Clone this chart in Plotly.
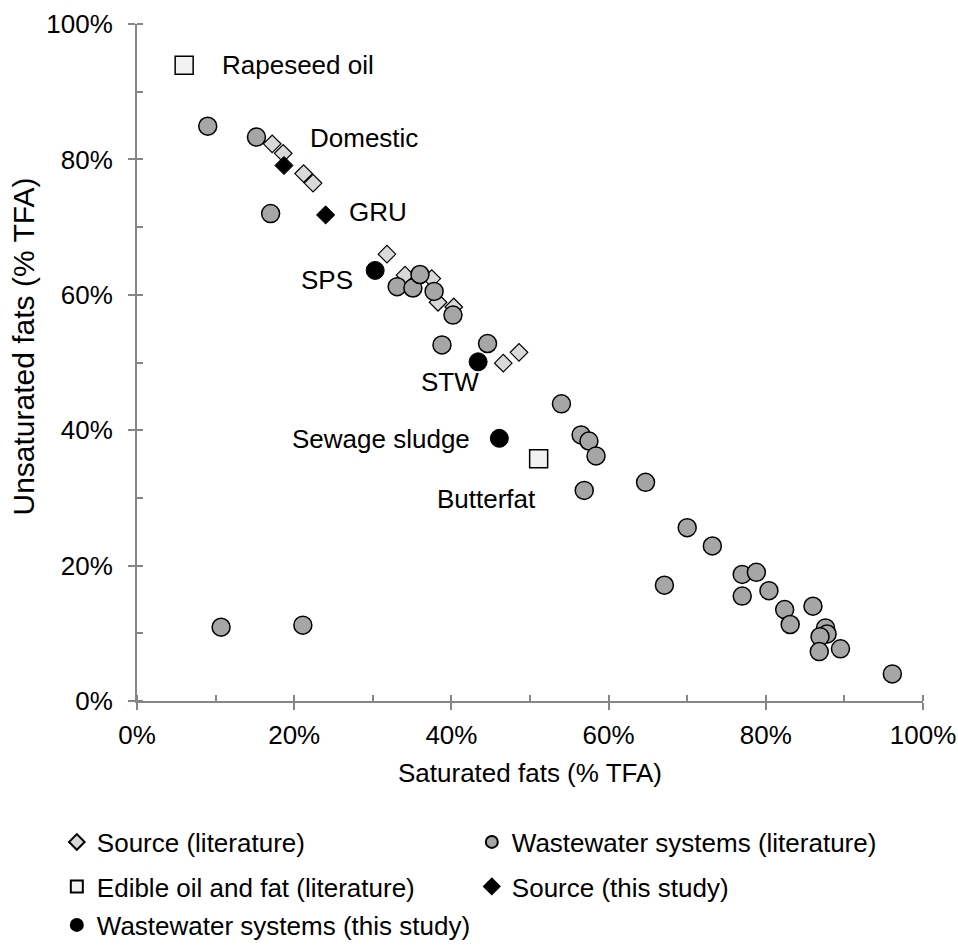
import plotly.graph_objects as go

FONT = "Liberation Sans, Arial, sans-serif"
AX = "#868686"
FS = 26

# ---- data (% of total fatty acids) ----
src_lit_x = [17.2, 18.6, 21.2, 22.4, 31.8, 34.1, 37.5, 38.3, 40.3, 46.6, 48.6]
src_lit_y = [82.3, 80.9, 77.9, 76.5, 66.0, 62.9, 62.4, 58.9, 58.2, 49.9, 51.5]

ww_lit_x = [9.0, 15.2, 17.0, 33.1, 35.1, 36.0, 37.8, 40.2, 38.8, 44.6, 54.0, 56.5,
            57.5, 58.4, 56.9, 64.7, 70.0, 73.2, 67.1, 77.0, 78.8, 77.0, 80.4, 82.4,
            83.1, 86.0, 87.6, 87.8, 86.9, 86.8, 89.5, 96.1, 10.7, 21.1]
ww_lit_y = [84.9, 83.3, 72.0, 61.2, 61.0, 63.0, 60.5, 57.0, 52.6, 52.8, 43.9, 39.3,
            38.4, 36.2, 31.1, 32.3, 25.6, 22.9, 17.1, 18.7, 19.0, 15.5, 16.3, 13.5,
            11.3, 14.0, 10.8, 9.9, 9.5, 7.3, 7.7, 4.0, 10.9, 11.2]

oil_names = ["Rapeseed oil", "Butterfat"]
oil_x = [6.0, 51.1]
oil_y = [93.9, 35.8]

src_names = ["Domestic", "GRU"]
src_x = [18.7, 24.0]
src_y = [79.1, 71.8]

ww_names = ["SPS", "STW", "Sewage sludge"]
ww_x = [30.3, 43.4, 46.1]
ww_y = [63.6, 50.1, 38.8]

# label placement (pixel offsets from the point)
label_style = {
    "Rapeseed oil": ("left", 36, 0),
    "Butterfat": ("right", -1, -40),
    "Domestic": ("left", 24, 27),
    "GRU": ("left", 21, 3),
    "SPS": ("right", -20, -10),
    "STW": ("center", -28, -20),
    "Sewage sludge": ("right", -27, -1),
}

fig = go.Figure()
fig.add_trace(go.Scatter(
    x=src_lit_x, y=src_lit_y, mode="markers", name="Source (literature)",
    legend="legend",
    marker=dict(symbol="diamond", size=13.5, color="#d9d9d9",
                line=dict(color="black", width=1.2)), cliponaxis=False))
fig.add_trace(go.Scatter(
    x=ww_lit_x, y=ww_lit_y, mode="markers", name="Wastewater systems (literature)",
    legend="legend",
    marker=dict(symbol="circle", size=18, color="#a6a6a6",
                line=dict(color="black", width=1.5)), cliponaxis=False))
fig.add_trace(go.Scatter(
    x=oil_x, y=oil_y, mode="markers", name="Edible oil and fat (literature)",
    legend="legend2",
    marker=dict(symbol="square", size=18, color="#f2f2f2",
                line=dict(color="black", width=1.5)), cliponaxis=False))
fig.add_trace(go.Scatter(
    x=src_x, y=src_y, mode="markers", name="Source (this study)",
    legend="legend2",
    marker=dict(symbol="diamond", size=14, color="black",
                line=dict(color="black", width=1)), cliponaxis=False))
fig.add_trace(go.Scatter(
    x=ww_x, y=ww_y, mode="markers", name="Wastewater systems (this study)",
    legend="legend3",
    marker=dict(symbol="circle", size=18, color="black",
                line=dict(color="black", width=1)), cliponaxis=False))
# empty trace to activate overlay axes (inner half of crossing ticks)
fig.add_trace(go.Scatter(x=[], y=[], xaxis="x2", yaxis="y2", showlegend=False,
                         hoverinfo="skip"))

for names, xs, ys in [(oil_names, oil_x, oil_y), (src_names, src_x, src_y),
                      (ww_names, ww_x, ww_y)]:
    for n, xv, yv in zip(names, xs, ys):
        anc, dx, dy = label_style[n]
        fig.add_annotation(x=xv, y=yv, text=n, showarrow=False, xanchor=anc,
                           yanchor="middle", xshift=dx, yshift=dy,
                           font=dict(family=FONT, size=FS, color="black"))

axis_common = dict(
    range=[0, 100], dtick=20, tick0=0, ticksuffix="%", showgrid=False,
    zeroline=False, showline=True, linecolor=AX, linewidth=2,
    ticks="outside", ticklen=7, tickwidth=2, tickcolor=AX,
    tickfont=dict(family=FONT, size=FS, color="black"),
    minor=dict(ticks="inside", dtick=10, tick0=0, ticklen=6, tickwidth=2,
               tickcolor=AX, showgrid=False),
)
overlay_common = dict(
    range=[0, 100], dtick=20, tick0=0, showgrid=False, zeroline=False,
    showline=False, ticks="inside", ticklen=6, tickwidth=2, tickcolor=AX,
    showticklabels=False,
)

leg_common = dict(orientation="h", x=-0.102, xanchor="left", yanchor="middle",
                  entrywidth=370, entrywidthmode="pixels",
                  font=dict(family=FONT, size=FS, color="black"),
                  bgcolor="rgba(0,0,0,0)", itemsizing="constant")

fig.update_layout(
    width=958, height=945,
    margin=dict(l=137, r=35, t=24, b=244, autoexpand=False),
    paper_bgcolor="white", plot_bgcolor="white",
    font=dict(family=FONT, size=FS, color="black"),
    xaxis=dict(**axis_common, ticklabelstandoff=3),
    yaxis=dict(**axis_common, ticklabelstandoff=10),
    xaxis2=dict(**overlay_common, overlaying="x", anchor="y", side="bottom"),
    yaxis2=dict(**overlay_common, overlaying="y", anchor="x", side="left"),
    showlegend=True,
    legend=dict(**leg_common, y=-0.2083),
    legend2=dict(**leg_common, y=-0.2740),
    legend3=dict(**leg_common, y=-0.3309),
)

fig.add_annotation(x=0.5, y=-0.107, xref="paper", yref="paper",
                   text="Saturated fats (% TFA)", showarrow=False,
                   xanchor="center", yanchor="middle",
                   font=dict(family=FONT, size=FS, color="black"))
fig.add_annotation(x=-0.1444, y=0.5229, xref="paper", yref="paper",
                   text="Unsaturated fats (% TFA)", showarrow=False, textangle=-90,
                   xanchor="center", yanchor="middle",
                   font=dict(family=FONT, size=30, color="black"))

fig.write_html("out.html")
